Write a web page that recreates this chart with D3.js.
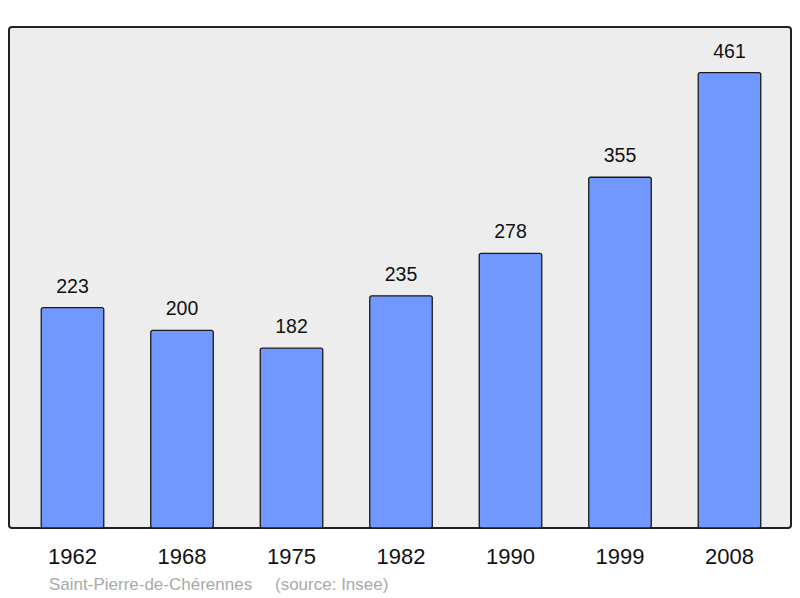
<!DOCTYPE html>
<html>
<head>
<meta charset="utf-8">
<script src="https://cdn.jsdelivr.net/npm/d3@7"></script>
<style>
  body { margin: 0; background: #fff; }
  svg text { font-family: "Liberation Sans", Arial, sans-serif; }
</style>
</head>
<body>
<div id="chart-area"></div>
<script>
const years = ["1962", "1968", "1975", "1982", "1990", "1999", "2008"];
const population = [223, 200, 182, 235, 278, 355, 461];
const commune = "Saint-Pierre-de-Chérennes";
const source = "(source: Insee)";

const W = 800, H = 598;
const frame = {left: 9, top: 27, right: 791, bottom: 528};

const svg = d3.select("#chart-area")
  .append("svg")
    .attr("width", W)
    .attr("height", H);

// x: band scale across the framed area
const x = d3.scaleBand()
  .domain(years)
  .range([frame.left + 0.5, frame.right + 1.5])
  .paddingInner(0.429)
  .paddingOuter(0.29);

const y = d3.scaleLinear()
  .domain([0, d3.max(population) * 1.1])
  .range([frame.bottom, frame.top]);

// background frame
svg.append("rect")
  .attr("x", frame.left)
  .attr("y", frame.top)
  .attr("width", frame.right - frame.left)
  .attr("height", frame.bottom - frame.top)
  .attr("rx", 3)
  .attr("fill", "#ededed")
  .attr("stroke", "#222")
  .attr("stroke-width", 2);

const data = years.map((yr, i) => ({year: yr, n: population[i]}));

// bars
svg.selectAll(".bar")
  .data(data)
  .join("rect")
    .attr("class", "bar")
    .attr("x", d => x(d.year))
    .attr("y", d => y(d.n))
    .attr("width", x.bandwidth())
    .attr("height", d => frame.bottom - y(d.n))
    .attr("rx", 2)
    .attr("fill", "#7098ff")
    .attr("stroke", "#1a1a1a")
    .attr("stroke-width", 1.3);

// value labels
svg.selectAll(".val")
  .data(data)
  .join("text")
    .attr("class", "val")
    .attr("x", d => x(d.year) + x.bandwidth() / 2)
    .attr("y", d => y(d.n) - 15)
    .attr("text-anchor", "middle")
    .attr("font-size", 19.5)
    .attr("fill", "#111")
    .text(d => d.n);

// x axis labels
const xAxis = svg.append("g")
  .attr("transform", `translate(0, ${frame.bottom})`)
  .call(d3.axisBottom(x).tickSize(0).tickPadding(20));
xAxis.select(".domain").remove();
xAxis.selectAll("text")
  .attr("font-size", 22)
  .attr("fill", "#111")
  .attr("font-family", "Liberation Sans, Arial, sans-serif");

// caption
svg.append("text")
  .attr("x", 49)
  .attr("y", 590)
  .attr("font-size", 17)
  .attr("fill", "#aaaaaa")
  .text(commune);
svg.append("text")
  .attr("x", 275)
  .attr("y", 590)
  .attr("font-size", 17)
  .attr("fill", "#aaaaaa")
  .text(source);
</script>
</body>
</html>
